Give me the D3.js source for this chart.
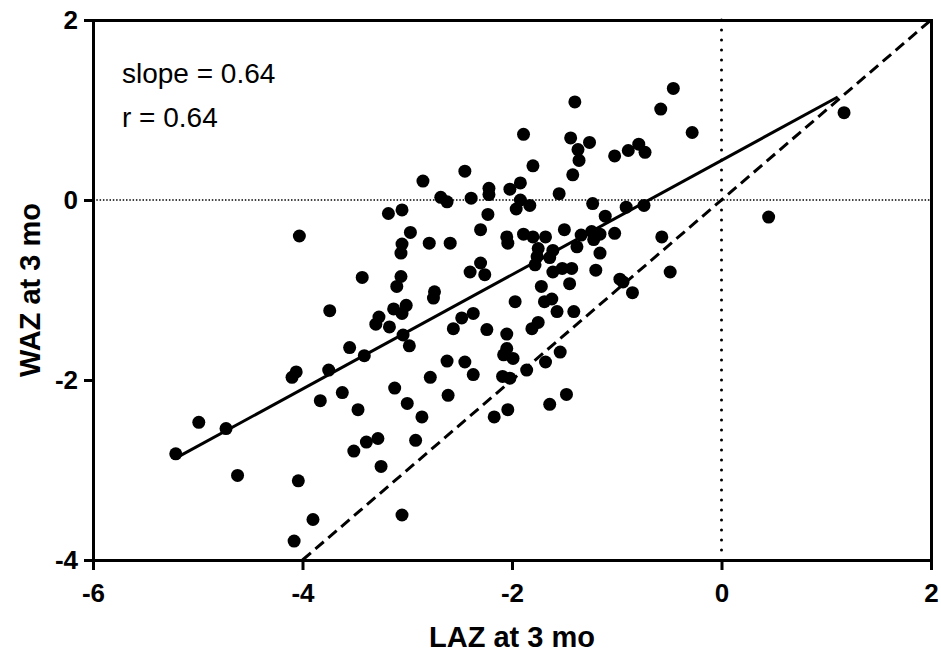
<!DOCTYPE html>
<html>
<head>
<meta charset="utf-8">
<script src="https://cdn.jsdelivr.net/npm/d3@7"></script>
<style>
  body { margin: 0; background: #fff; }
  text { font-family: "Liberation Sans", Arial, sans-serif; }
</style>
</head>
<body>
<div id="chart"></div>
<script>
// LAZ (x) and WAZ (y) at 3 months
var laz = [
  -4.03, -3.43, -3.18, -3.74, -3.13, -3.27, -3.30, -3.17, -3.55, -3.41,
  -4.10, -4.06, -3.75, -3.83, -3.62, -3.47, -3.12, -4.99, -4.73, -5.21,
  -4.62, -4.04, -3.51, -3.39, -3.28, -3.25, -3.90, -4.08, -3.05,
  -1.40, -1.89, -1.44, -1.42, -1.80, -2.45, -2.85, -2.22, -2.22, -2.02,
  -1.92, -1.55, -2.68, -2.62, -2.39, -1.92, -1.96, -1.83, -3.05, -2.23,
  -2.30, -2.97, -3.05, -3.06, -2.79, -2.59, -2.05, -2.04, -1.89, -1.80,
  -1.68, -1.50, -1.75, -1.76, -1.78, -1.61, -1.64, -1.38, -3.06, -2.40,
  -2.30, -2.26, -1.61, -1.52, -1.43,
  -3.10, -2.74, -2.75, -3.01, -3.05, -3.04, -2.98, -2.56, -2.48, -2.37,
  -2.24, -1.97, -1.72, -1.45, -1.69, -1.62, -1.57, -1.41, -1.81, -1.75,
  -2.05, -2.05, -2.08, -1.99, -2.62, -2.45, -2.37, -2.78, -2.61, -2.09,
  -2.02, -1.86, -1.68, -1.54, -3.00, -2.86, -2.92, -2.17, -2.04, -1.64,
  -1.48,
  -0.46, -0.58, -0.28, -1.26, -1.37, -1.36, -1.02, -0.89, -0.79, -0.73,
  -1.23, -0.91, -0.74, -1.11, -1.34, -1.24, -1.16, -1.22, -1.02, -1.16,
  -0.57, -1.20, -0.49, -0.97, -0.94, -0.85, 1.17, 0.45
];
var waz = [
  -0.40, -0.86, -0.15, -1.23, -1.21, -1.30, -1.38, -1.41, -1.64, -1.73,
  -1.97, -1.91, -1.89, -2.23, -2.14, -2.33, -2.09, -2.47, -2.54, -2.82,
  -3.06, -3.12, -2.79, -2.69, -2.65, -2.96, -3.55, -3.79, -3.50,
  1.09, 0.73, 0.69, 0.28, 0.38, 0.32, 0.21, 0.13, 0.06, 0.12,
  0.19, 0.07, 0.03, -0.02, 0.02, 0.00, -0.10, -0.06, -0.11, -0.16,
  -0.33, -0.36, -0.49, -0.59, -0.48, -0.48, -0.41, -0.48, -0.38, -0.41,
  -0.41, -0.33, -0.54, -0.63, -0.72, -0.56, -0.64, -0.52, -0.85, -0.80,
  -0.70, -0.83, -0.80, -0.76, -0.76,
  -0.96, -1.02, -1.09, -1.17, -1.26, -1.50, -1.62, -1.43, -1.31, -1.26,
  -1.44, -1.13, -0.96, -0.93, -1.13, -1.10, -1.24, -1.24, -1.43, -1.36,
  -1.49, -1.65, -1.72, -1.76, -1.79, -1.80, -1.94, -1.97, -2.17, -1.96,
  -1.98, -1.89, -1.80, -1.69, -2.26, -2.41, -2.67, -2.41, -2.33, -2.27,
  -2.16,
  1.24, 1.01, 0.75, 0.64, 0.56, 0.44, 0.49, 0.55, 0.62, 0.53,
  -0.04, -0.08, -0.06, -0.18, -0.39, -0.35, -0.38, -0.44, -0.37, -0.59,
  -0.41, -0.78, -0.80, -0.88, -0.91, -1.03, 0.97, -0.19
];

var xTicks = [-6, -4, -2, 0, 2];
var yTicks = [-4, -2, 0, 2];

// regression line and line of identity
var fitSlope = 0.635;
var fitIntercept = 0.44;
var fitRange = [-5.21, 1.11];
var identityRange = [-4, 2];

var statLines = ["slope = 0.64", "r = 0.64"];

var width = 941, height = 652;
var margin = {top: 20, right: 10, bottom: 92, left: 93};

var svg = d3.select("#chart").append("svg")
  .attr("width", width)
  .attr("height", height);

var x = d3.scaleLinear().domain([-6, 2]).range([margin.left, width - margin.right]);
var y = d3.scaleLinear().domain([-4, 2]).range([height - margin.bottom, margin.top]);

// zero reference lines
svg.append("line")
  .attr("x1", x(-6)).attr("x2", x(2))
  .attr("y1", y(0)).attr("y2", y(0))
  .attr("stroke", "#000")
  .attr("stroke-width", 1.5)
  .attr("stroke-dasharray", "1.5 1.8");

svg.append("line")
  .attr("x1", x(0)).attr("x2", x(0))
  .attr("y1", y(2)).attr("y2", y(-4))
  .attr("stroke", "#000")
  .attr("stroke-width", 3)
  .attr("stroke-linecap", "round")
  .attr("stroke-dasharray", "0 10");

// identity line
svg.append("line")
  .attr("x1", x(identityRange[0])).attr("y1", y(identityRange[0]))
  .attr("x2", x(identityRange[1])).attr("y2", y(identityRange[1]))
  .attr("stroke", "#000")
  .attr("stroke-width", 3)
  .attr("stroke-dasharray", "11 6");

// points
svg.selectAll(".dot")
  .data(d3.zip(laz, waz))
  .enter().append("circle")
  .attr("class", "dot")
  .attr("cx", function(d) { return x(d[0]); })
  .attr("cy", function(d) { return y(d[1]); })
  .attr("r", 6.5)
  .attr("fill", "#000");

// regression line
svg.append("line")
  .attr("x1", x(fitRange[0])).attr("y1", y(fitSlope * fitRange[0] + fitIntercept))
  .attr("x2", x(fitRange[1])).attr("y2", y(fitSlope * fitRange[1] + fitIntercept))
  .attr("stroke", "#000")
  .attr("stroke-width", 3);

// axes
svg.append("g")
  .attr("transform", "translate(0," + y(-4) + ")")
  .call(d3.axisBottom(x).tickValues(xTicks).tickSize(10).tickSizeOuter(0).tickPadding(14));

svg.append("g")
  .attr("transform", "translate(" + x(-6) + ",0)")
  .call(d3.axisLeft(y).tickValues(yTicks).tickSize(9).tickSizeOuter(0).tickPadding(6));

svg.append("g")
  .attr("transform", "translate(0," + y(2) + ")")
  .call(d3.axisTop(x).tickValues([]).tickSizeOuter(0));

svg.append("g")
  .attr("transform", "translate(" + x(2) + ",0)")
  .call(d3.axisRight(y).tickValues([]).tickSizeOuter(0));

svg.selectAll(".domain").attr("stroke-width", 3).attr("stroke-linecap", "square");
svg.selectAll(".tick line").attr("stroke-width", 3);
svg.selectAll(".tick text")
  .attr("font-family", "'Liberation Sans', Arial, sans-serif")
  .attr("font-size", 26)
  .attr("font-weight", "bold")
  .attr("fill", "#000")
  .text(function(d) { return d; });

// axis titles
svg.append("text")
  .attr("x", x(-2))
  .attr("y", 647)
  .attr("text-anchor", "middle")
  .attr("font-size", 29)
  .attr("font-weight", "bold")
  .text("LAZ at 3 mo");

svg.append("text")
  .attr("transform", "translate(40," + y(-1) + ") rotate(-90)")
  .attr("text-anchor", "middle")
  .attr("font-size", 29)
  .attr("font-weight", "bold")
  .text("WAZ at 3 mo");

// stats annotation
svg.selectAll(".stat")
  .data(statLines)
  .enter().append("text")
  .attr("class", "stat")
  .attr("x", 122)
  .attr("y", function(d, i) { return 83 + i * 44; })
  .attr("font-size", 28)
  .text(function(d) { return d; });
</script>
</body>
</html>
